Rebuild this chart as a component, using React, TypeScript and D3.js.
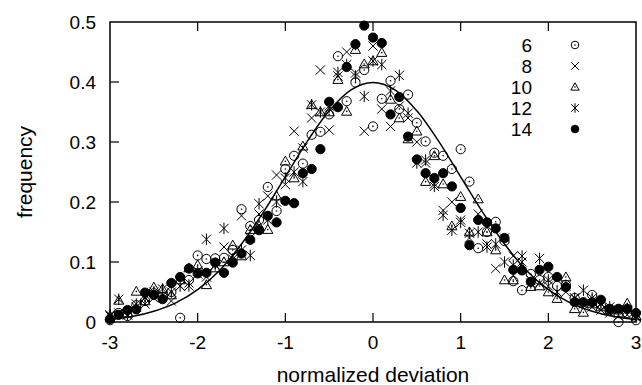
import { useEffect, useRef } from "react";
import * as d3 from "d3";

// bin centres: -3.0 ... 3.0 in steps of 0.1
const deviation = d3.range(-30, 31).map((i) => i / 10);

const size6 = [
  0.003, 0.015, 0.01, 0.028, 0.035, 0.048, 0.042, 0.05, 0.007, 0.07,
  0.111, 0.105, 0.106, 0.107, 0.12, 0.188, 0.16, 0.17, 0.225, 0.185,
  0.255, 0.277, 0.264, 0.312, 0.317, 0.346, 0.443, 0.368, 0.399, 0.42,
  0.326, 0.372, 0.402, 0.355, 0.379, 0.332, 0.301, 0.282, 0.277, 0.255,
  0.288, 0.234, 0.123, 0.15, 0.167, 0.135, 0.068, 0.053, 0.08, 0.07,
  0.075, 0.06, 0.062, 0.04, 0.03, 0.045, 0.028, 0.02, 0.0, 0.015, 0.003,
];
const size8 = [
  0.01, 0.015, 0.012, 0.025, 0.03, 0.04, 0.045, 0.035, 0.06, 0.065,
  0.08, 0.075, 0.095, 0.125, 0.11, 0.177, 0.14, 0.18, 0.21, 0.245,
  0.229, 0.318, 0.29, 0.34, 0.42, 0.32, 0.41, 0.45, 0.415, 0.318,
  0.46, 0.355, 0.326, 0.36, 0.34, 0.3, 0.265, 0.23, 0.186, 0.2,
  0.17, 0.14, 0.18, 0.13, 0.089, 0.14, 0.11, 0.1, 0.07, 0.065,
  0.06, 0.05, 0.05, 0.04, 0.03, 0.025, 0.02, 0.015, 0.01, 0.012, 0.008,
];
const size10 = [
  0.01, 0.036, 0.015, 0.051, 0.035, 0.058, 0.055, 0.045, 0.07, 0.09,
  0.095, 0.062, 0.09, 0.1, 0.128, 0.11, 0.154, 0.16, 0.154, 0.21,
  0.268, 0.24, 0.293, 0.362, 0.35, 0.35, 0.404, 0.351, 0.454, 0.43,
  0.435, 0.449, 0.371, 0.34, 0.305, 0.318, 0.234, 0.277, 0.23, 0.16,
  0.209, 0.15, 0.205, 0.15, 0.12, 0.07, 0.07, 0.09, 0.059, 0.06,
  0.05, 0.039, 0.075, 0.022, 0.016, 0.03, 0.025, 0.02, 0.015, 0.031, 0.01,
];
const size12 = [
  0.012, 0.038, 0.012, 0.03, 0.04, 0.05, 0.055, 0.05, 0.06, 0.06,
  0.085, 0.138, 0.095, 0.156, 0.105, 0.12, 0.111, 0.197, 0.17, 0.2,
  0.24, 0.25, 0.234, 0.362, 0.35, 0.36, 0.416, 0.429, 0.41, 0.376,
  0.435, 0.429, 0.385, 0.411, 0.348, 0.265, 0.27, 0.226, 0.178, 0.153,
  0.166, 0.148, 0.15, 0.125, 0.13, 0.1, 0.095, 0.11, 0.065, 0.106,
  0.07, 0.05, 0.06, 0.04, 0.053, 0.04, 0.03, 0.025, 0.02, 0.02, 0.01,
];
const size14 = [
  0.005, 0.012, 0.02, 0.021, 0.049, 0.045, 0.038, 0.065, 0.075, 0.089,
  0.081, 0.082, 0.099, 0.082, 0.099, 0.114, 0.137, 0.153, 0.177, 0.166,
  0.202, 0.198, 0.248, 0.255, 0.288, 0.367, 0.358, 0.425, 0.463, 0.494,
  0.474, 0.465, 0.346, 0.375, 0.309, 0.271, 0.248, 0.24, 0.248, 0.226,
  0.19, 0.128, 0.17, 0.166, 0.156, 0.14, 0.087, 0.086, 0.067, 0.087,
  0.092, 0.075, 0.058, 0.033, 0.033, 0.033, 0.037, 0.022, 0.022, 0.022, 0.015,
];

// reference curve
const curveX = [
  -3, -2.75, -2.5, -2.25, -2, -1.75, -1.5, -1.25, -1, -0.75, -0.5, -0.25, 0,
  0.25, 0.5, 0.75, 1, 1.25, 1.5, 1.75, 2, 2.25, 2.5, 2.75, 3,
];
const curveY = [
  0.004, 0.009, 0.018, 0.032, 0.054, 0.086, 0.13, 0.183, 0.242, 0.301, 0.352,
  0.387, 0.399, 0.387, 0.352, 0.301, 0.242, 0.183, 0.13, 0.086, 0.054, 0.032,
  0.018, 0.009, 0.004,
];

const xTicks = [-3, -2, -1, 0, 1, 2, 3];
const yTicks = [0, 0.1, 0.2, 0.3, 0.4, 0.5];

type Shape = "circle" | "cross" | "triangle" | "star" | "disc";
const seriesNames = ["6", "8", "10", "12", "14"];
const seriesShapes: Shape[] = ["circle", "cross", "triangle", "star", "disc"];
const seriesValues = [size6, size8, size10, size12, size14];

const FONT = "'Liberation Sans', Arial, Helvetica, sans-serif";

function drawMarker(
  g: d3.Selection<SVGGElement, unknown, null, undefined>,
  shape: Shape,
  cx: number,
  cy: number,
  r: number,
) {
  const m = g.append("g").attr("transform", `translate(${cx},${cy})`);
  const stroke = "#000";
  if (shape === "circle" || shape === "disc") {
    m.append("circle")
      .attr("r", r)
      .attr("fill", shape === "disc" ? stroke : "none")
      .attr("stroke", stroke)
      .attr("stroke-width", 1);
  }
  if (shape === "circle" || shape === "triangle") {
    m.append("circle").attr("r", 0.8).attr("fill", stroke);
  }
  if (shape === "triangle") {
    const h = r * 1.1;
    m.append("path")
      .attr("d", `M0,${-h}L${h},${h * 0.75}L${-h},${h * 0.75}Z`)
      .attr("fill", "none")
      .attr("stroke", stroke)
      .attr("stroke-width", 1);
  }
  if (shape === "cross" || shape === "star") {
    const a = r;
    let d = `M${-a},${-a}L${a},${a}M${-a},${a}L${a},${-a}`;
    if (shape === "star") d += `M0,${-a * 1.25}L0,${a * 1.25}`;
    m.append("path")
      .attr("d", d)
      .attr("fill", "none")
      .attr("stroke", stroke)
      .attr("stroke-width", 1);
  }
}

export default function App() {
  const svgRef = useRef<SVGSVGElement>(null);

  useEffect(() => {
    if (!svgRef.current) return;
    const width = 642;
    const height = 385;
    const margin = { top: 22, right: 6, bottom: 63, left: 110 };
    const innerW = width - margin.left - margin.right;
    const innerH = height - margin.top - margin.bottom;

    const svg = d3.select(svgRef.current);
    svg.selectAll("*").remove();
    const g = svg
      .append("g")
      .attr("transform", `translate(${margin.left},${margin.top})`);

    const x = d3.scaleLinear().domain([-3, 3]).range([0, innerW]);
    const y = d3.scaleLinear().domain([0, 0.5]).range([innerH, 0]);

    // inward ticks: bottom + top, left only
    xTicks.slice(1, -1).forEach((t) => {
      g.append("line")
        .attr("x1", x(t)).attr("x2", x(t))
        .attr("y1", innerH).attr("y2", innerH - 9)
        .attr("stroke", "#000").attr("stroke-width", 1.2);
      g.append("line")
        .attr("x1", x(t)).attr("x2", x(t))
        .attr("y1", 0).attr("y2", 9)
        .attr("stroke", "#000").attr("stroke-width", 1.2);
    });
    yTicks.slice(1, -1).forEach((t) => {
      g.append("line")
        .attr("x1", 0).attr("x2", 9)
        .attr("y1", y(t)).attr("y2", y(t))
        .attr("stroke", "#000").attr("stroke-width", 1.2);
    });

    // tick labels (plain hyphen minus, as in the original)
    xTicks.forEach((t) => {
      g.append("text")
        .attr("x", x(t))
        .attr("y", innerH + 27)
        .attr("text-anchor", "middle")
        .style("font-family", FONT)
        .style("font-size", "19px")
        .text(String(t));
    });
    yTicks.forEach((t) => {
      g.append("text")
        .attr("x", -14)
        .attr("y", y(t) + 6.5)
        .attr("text-anchor", "end")
        .style("font-family", FONT)
        .style("font-size", "19px")
        .text(t === 0 ? "0" : t.toFixed(1));
    });

    // reference curve
    const line = d3
      .line<number>()
      .x((_, i) => x(curveX[i]))
      .y((d) => y(d))
      .curve(d3.curveCatmullRom);
    g.append("path")
      .datum(curveY)
      .attr("fill", "none")
      .attr("stroke", "#000")
      .attr("stroke-width", 1.5)
      .attr("d", line);

    // data points
    seriesValues.forEach((vals, si) => {
      const sg = g.append("g");
      vals.forEach((v, i) => {
        drawMarker(sg, seriesShapes[si], x(deviation[i]), y(v), 4.6);
      });
    });

    // legend
    const legend = g.append("g");
    seriesNames.forEach((name, i) => {
      const ly = 23 + i * 21;
      legend
        .append("text")
        .attr("x", 422)
        .attr("y", ly + 7)
        .attr("text-anchor", "end")
        .style("font-family", FONT)
        .style("font-size", "19px")
        .text(name);
      drawMarker(legend, seriesShapes[i], 465, ly, 3.8);
    });

    // frame
    g.append("rect")
      .attr("width", innerW)
      .attr("height", innerH)
      .attr("fill", "none")
      .attr("stroke", "#000")
      .attr("stroke-width", 1.5);

    // axis titles
    svg
      .append("text")
      .attr("x", margin.left + innerW / 2)
      .attr("y", 382)
      .attr("text-anchor", "middle")
      .style("font-family", FONT)
      .style("font-size", "21px")
      .text("normalized deviation");
    svg
      .append("text")
      .attr("transform", `translate(32,${margin.top + innerH / 2}) rotate(-90)`)
      .attr("text-anchor", "middle")
      .style("font-family", FONT)
      .style("font-size", "21px")
      .text("frequency");
  }, []);

  return (
    <svg
      ref={svgRef}
      width={642}
      height={385}
      style={{ position: "absolute", left: 0, top: 0, background: "#fff" }}
    />
  );
}
